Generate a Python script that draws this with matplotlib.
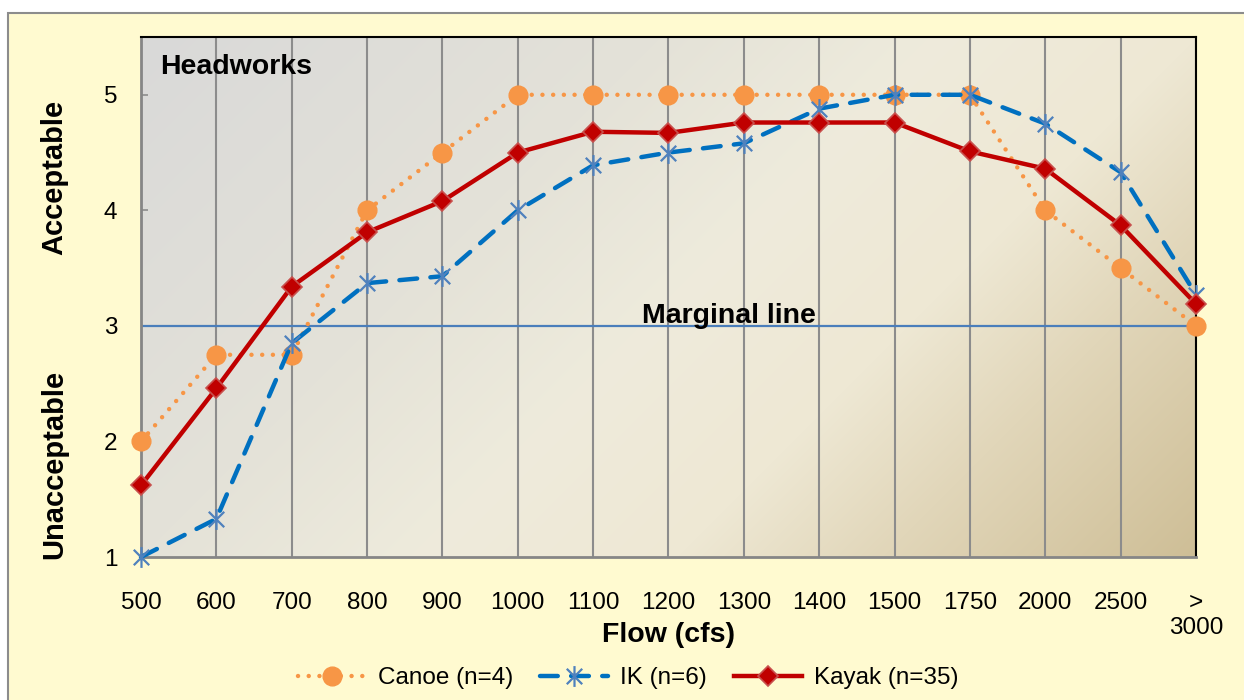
import numpy as np
import matplotlib
matplotlib.use("Agg")
import matplotlib.pyplot as plt
from matplotlib.path import Path
from matplotlib.patches import Rectangle

plt.rcParams['font.family'] = ['Liberation Sans', 'DejaVu Sans']

# Flow categories and mean acceptability ratings per craft type
flows = ["500", "600", "700", "800", "900", "1000", "1100", "1200", "1300",
         "1400", "1500", "1750", "2000", "2500", ">\n3000"]
canoe = [2.0, 2.75, 2.75, 4.0, 4.5, 5.0, 5.0, 5.0, 5.0, 5.0, 5.0, 5.0, 4.0, 3.5, 3.0]
ik = [1.0, 1.33, 2.85, 3.37, 3.43, 4.0, 4.39, 4.5, 4.58, 4.88, 5.0, 5.0, 4.75, 4.33, 3.27]
kayak = [1.62, 2.46, 3.34, 3.81, 4.08, 4.5, 4.68, 4.67, 4.76, 4.76, 4.76, 4.51, 4.36, 3.87, 3.19]
marginal = 3.0
y_ticks = [1, 2, 3, 4, 5]

W, H, DPI = 1244, 700, 100
fig = plt.figure(figsize=(W / DPI, H / DPI), dpi=DPI, facecolor='white')

# cream chart panel with grey border
panel = Rectangle((8 / W, -0.05), 1.1, (H - 13) / H + 0.05, transform=fig.transFigure,
                  facecolor='#FFFAD0', edgecolor='#8C8C8C', lw=1.5, zorder=-10)
fig.patches.append(panel)

ax = fig.add_axes([141 / W, (H - 557) / H, 1055 / W, 520 / H])
ax.set_zorder(1)

# diagonal gradient fill of the plot area
gw, gh = 1055, 520
px = np.arange(gw)[None, :]
py = np.arange(gh)[:, None]
t = (px + py) / (gw + gh)
stops = [0.0, 0.33, 0.5, 0.67, 0.8, 1.0]
cols = np.array([[217, 217, 217], [228, 226, 216], [238, 235, 220],
                 [238, 232, 212], [225, 214, 185], [206, 190, 150]]) / 255.0
img = np.zeros((gh, gw, 3))
for c in range(3):
    img[..., c] = np.interp(t, stops, cols[:, c])
ax.imshow(img, extent=[0, 1, 0, 1], transform=ax.transAxes, aspect='auto',
          zorder=0, interpolation='bilinear')
ax.set_xlim(0, len(flows) - 1)
ax.set_ylim(1, 5.5)
ax.set_facecolor('none')

x = np.arange(len(flows))

# vertical gridlines
ax.set_xticks(x)
ax.set_xticklabels(flows, fontsize=17.5)
ax.grid(axis='x', color='#8C8C8C', lw=1.5, zorder=1)
ax.tick_params(axis='x', length=0, pad=25)
ax.set_yticks(y_ticks)
ax.set_yticklabels([str(v) for v in y_ticks], fontsize=17.5)
ax.tick_params(axis='y', direction='in', length=5, width=1.2, color='#8C8C8C', pad=17)

for s in ('top', 'right'):
    ax.spines[s].set_color('black')
    ax.spines[s].set_linewidth(1.5)
for s in ('left', 'bottom'):
    ax.spines[s].set_color('#868686')
    ax.spines[s].set_linewidth(2)

# marginal threshold
ax.axhline(marginal, color='#4A7EBB', lw=1.6, zorder=2)
ax.text(7.8, marginal - 0.03, "Marginal line", fontsize=20.5, fontweight='bold',
        ha='center', va='bottom', zorder=6)
ax.text(0.25, 5.24, "Headworks", fontsize=20.5, fontweight='bold', ha='left',
        va='center', zorder=6)

# asterisk marker for IK series
star = Path([(-1, -1), (1, 1), (-1, 1), (1, -1), (0, -1.35), (0, 1.35)],
            [Path.MOVETO, Path.LINETO] * 3)

l_canoe, = ax.plot(x, canoe, color='#F79646', lw=3.2, linestyle=(0, (0.01, 2.4)),
                   dash_capstyle='round', marker='o', markersize=13.5,
                   markerfacecolor='#F79646', markeredgecolor='#F79646',
                   clip_on=False, zorder=3, label='Canoe (n=4)')
l_ik, = ax.plot(x, ik, color='#0070C0', lw=3.2, linestyle=(0, (4.0, 3.0)),
                dash_capstyle='round', marker=star, markersize=15,
                markeredgecolor='#4F81BD', markeredgewidth=1.6, markerfacecolor='none',
                clip_on=False, zorder=4, label='IK (n=6)')
l_kayak, = ax.plot(x, kayak, color='#C00000', lw=3.2, marker='D', markersize=10.5,
                   markerfacecolor='#C00000', markeredgecolor='#C8504D',
                   markeredgewidth=1.2, clip_on=False, zorder=5, label='Kayak (n=35)')

# axis titles
fig.text(668 / W, 1 - 635 / H, "Flow (cfs)", fontsize=20.5, fontweight='bold',
         ha='center', va='center')
fig.text(54 / W, 1 - 177 / H, "Acceptable", fontsize=21, fontweight='bold',
         rotation=90, ha='center', va='center')
fig.text(54 / W, 1 - 464 / H, "Unacceptable", fontsize=21, fontweight='bold',
         rotation=90, ha='center', va='center')

leg = fig.legend(handles=[l_canoe, l_ik, l_kayak], loc='center',
                 bbox_to_anchor=(628 / W, 1 - 678 / H), ncol=3, frameon=False,
                 fontsize=17.5, handlelength=2.8, handletextpad=0.5,
                 columnspacing=1.1, numpoints=1)

fig.savefig("out.png", dpi=DPI, facecolor='white')
